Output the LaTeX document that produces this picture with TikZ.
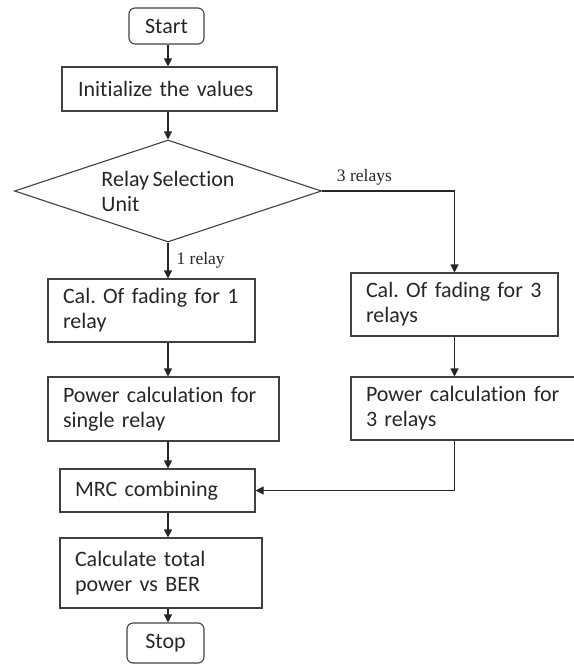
\documentclass[tikz,border=0pt]{standalone}
\usepackage{fontspec}
\setmainfont[WordSpace=0.7, Ligatures=NoCommon]{Carlito}
\newfontfamily\labelfont{Liberation Serif}
\usetikzlibrary{shapes.geometric,arrows.meta}
\frenchspacing

\begin{document}
\begin{tikzpicture}[x=1pt,y=-1pt,
  line width=1.1pt,
  every node/.style={font=\fontsize{22}{25}\selectfont, text=black!85},
  termbox/.style={draw=black!75, rounded corners=6pt, inner sep=0pt},
  procbox/.style={draw=black!75, inner xsep=15pt, inner ysep=0pt, align=left},
  flow/.style={-{Triangle[length=8pt,width=8pt]}, draw=black!85},
  branch/.style={font=\labelfont\fontsize{17.5}{19}\selectfont}]
\useasboundingbox (0,0) rectangle (573,664);
\coordinate (trunk) at (168,0);

\node[termbox, minimum width=75pt, minimum height=36pt] (start) at (166.5,26) {Start};
\node[procbox, minimum height=44pt, inner xsep=16pt, text width=183pt] (init) at (169.5,89) {Initialize the values};
\node[draw=black!75, diamond, aspect=3, inner sep=0pt, minimum width=307pt, minimum height=102pt, align=left] (sel) at (168,191) {Relay Selection\\Unit};

% 1 relay branch
\node[procbox, minimum height=63pt, text width=177pt] (fade1) at (151.5,310.5) {Cal. Of fading for 1\\relay};
\node[procbox, minimum height=64pt, text width=201pt] (pow1) at (163.5,409) {Power calculation for\\single relay};

% 3 relays branch
\node[procbox, minimum height=63pt, text width=177pt] (fade3) at (454.5,304.5) {Cal. Of fading for 3\\relays};
\node[procbox, minimum height=63pt, text width=194pt] (pow3) at (463,408.5) {Power calculation for\\3 relays};

\node[procbox, minimum height=43pt, text width=165pt] (mrc) at (157.5,490.5) {MRC combining};
\node[procbox, minimum height=70pt, text width=172pt] (calc) at (161,573) {Calculate total\\power vs BER};
\node[termbox, minimum width=77pt, minimum height=40pt] (stop) at (165.5,643) {Stop};

\draw[flow] (start.south -| trunk) -- (init.north -| trunk);
\draw[flow] (init.south -| trunk) -- (sel.north);
\draw[flow] (sel.south) -- node[branch, right, inner xsep=8pt] {1 relay} (fade1.north -| sel.south);
\draw[flow] (sel.east) -| node[branch, pos=0.16, above, inner ysep=5pt] {3 relays} (fade3.north);
\draw[flow] (fade1.south -| trunk) -- (pow1.north -| trunk);
\draw[flow] (fade3.south) -- (pow3.north -| fade3.south);
\draw[flow] (pow1.south -| trunk) -- (mrc.north -| trunk);
\draw[flow] (pow3.south -| fade3.south) |- (mrc.east);
\draw[flow] (mrc.south -| trunk) -- (calc.north -| trunk);
\draw[flow] (calc.south -| trunk) -- (stop.north -| trunk);
\end{tikzpicture}
\end{document}
